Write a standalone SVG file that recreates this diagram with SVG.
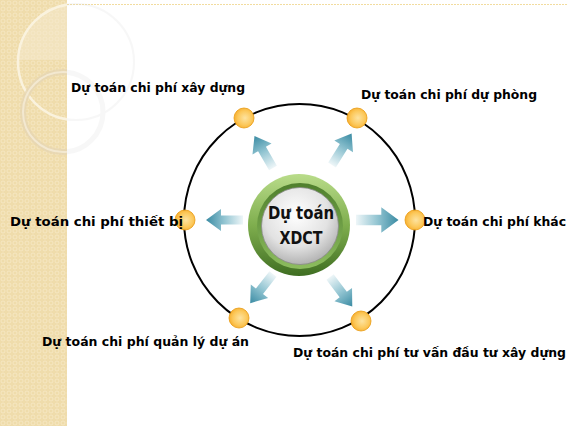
<svg xmlns="http://www.w3.org/2000/svg" width="568" height="426" viewBox="0 0 568 426">
<style>
.lbl{font-family:"DejaVu Sans",Verdana,sans-serif;font-weight:bold;font-size:12px;fill:#000}
.ctr{font-family:"DejaVu Sans",Verdana,sans-serif;font-weight:bold;font-size:17px;fill:#111;text-anchor:middle}
.dot{fill:url(#gOrange);stroke:#e89a10;stroke-width:0.8}
.arrow{fill:url(#gArrow)}
</style>
<defs>
<pattern id="pStrip" width="6" height="6" patternUnits="userSpaceOnUse">
<rect width="6" height="6" fill="#efdcab"/>
<circle cx="3" cy="3" r="2" fill="none" stroke="#f6e9c6" stroke-width="0.8"/>
</pattern>
<clipPath id="clipStrip"><rect x="0" y="0" width="67" height="426"/></clipPath>
<clipPath id="clipWhite"><rect x="67" y="0" width="100" height="200"/></clipPath>
<radialGradient id="gOrange" cx="0.55" cy="0.5" r="0.6">
<stop offset="0" stop-color="#fde3a0"/>
<stop offset="0.6" stop-color="#fcc85a"/>
<stop offset="1" stop-color="#f6a824"/>
</radialGradient>
<linearGradient id="gArrow" x1="0" y1="0" x2="1" y2="0">
<stop offset="0" stop-color="#eef6f8"/>
<stop offset="0.5" stop-color="#93c5d2"/>
<stop offset="1" stop-color="#3a8ba3"/>
</linearGradient>
<linearGradient id="gGreen" x1="0" y1="0" x2="0" y2="1">
<stop offset="0" stop-color="#b9dc8a"/>
<stop offset="0.5" stop-color="#7fae4e"/>
<stop offset="1" stop-color="#3f6e22"/>
</linearGradient>
<linearGradient id="gGreenIn" x1="0" y1="0" x2="0" y2="1">
<stop offset="0" stop-color="#4f7f2d"/>
<stop offset="1" stop-color="#8dbd5f"/>
</linearGradient>
<radialGradient id="gGrey" cx="0.45" cy="0.35" r="0.7">
<stop offset="0" stop-color="#ffffff"/>
<stop offset="0.6" stop-color="#e2e2e2"/>
<stop offset="1" stop-color="#a9a9a9"/>
</radialGradient>
<g id="arr">
<path class="arrow" d="M0,-4.5 L22,-4.5 L22,-11 L37,0 L22,11 L22,4.5 L0,4.5 Z"/>
</g>
</defs>

<rect width="568" height="426" fill="#ffffff"/>

<g id="background">
<rect x="0" y="0" width="67" height="426" fill="url(#pStrip)"/>
<line x1="67" y1="4.5" x2="568" y2="4.5" stroke="#f2dc9f" stroke-width="1.2" stroke-dasharray="2,1"/>
<g clip-path="url(#clipStrip)">
<path d="M18,60 A58,58 0 0 1 67,5 L67,60 Z" fill="#f6ead0" opacity="0.5"/>
<circle cx="76" cy="62" r="58" fill="none" stroke="#fbf4e2" stroke-width="2.5" opacity="0.9"/>
<circle cx="63" cy="112" r="40" fill="none" stroke="#e6d6b3" stroke-width="6" opacity="0.8"/>
<circle cx="63" cy="112" r="40" fill="none" stroke="#f5ecd8" stroke-width="2" opacity="0.8"/>
</g>
<g clip-path="url(#clipWhite)" opacity="0.2">
<circle cx="76" cy="62" r="58" fill="none" stroke="#d8d8d8" stroke-width="2"/>
<circle cx="63" cy="112" r="40" fill="none" stroke="#d8d8d8" stroke-width="5"/>
</g>
</g>

<g id="connectors">
<ellipse cx="299.5" cy="220" rx="115.5" ry="116" fill="none" stroke="#000" stroke-width="2"/>
<use href="#arr" transform="translate(273,168) rotate(-120)"/>
<use href="#arr" transform="translate(332,165) rotate(-58)"/>
<use href="#arr" transform="translate(243,220) rotate(180)"/>
<use href="#arr" transform="translate(356,220) scale(1.15)"/>
<use href="#arr" transform="translate(273,274) rotate(128)"/>
<use href="#arr" transform="translate(330,277) rotate(53)"/>
</g>

<g id="center">
<circle cx="299" cy="225" r="51" fill="url(#gGreen)"/>
<circle cx="300" cy="226" r="43" fill="url(#gGreenIn)"/>
<circle cx="300" cy="226" r="38.5" fill="url(#gGrey)" stroke="#8a8a8a" stroke-width="0.8"/>
<text class="ctr" x="301" y="219" textLength="66" lengthAdjust="spacingAndGlyphs">Dự toán</text>
<text class="ctr" x="301" y="244" textLength="43" lengthAdjust="spacingAndGlyphs">XDCT</text>
</g>

<g id="n-xaydung">
<circle class="dot" cx="244" cy="118" r="10"/>
<text class="lbl" x="71" y="92" textLength="174" lengthAdjust="spacingAndGlyphs">Dự toán chi phí xây dựng</text>
</g>
<g id="n-duphong">
<circle class="dot" cx="357" cy="118" r="10"/>
<text class="lbl" x="361" y="99" textLength="176" lengthAdjust="spacingAndGlyphs">Dự toán chi phí dự phòng</text>
</g>
<g id="n-thietbi">
<circle class="dot" cx="185" cy="220" r="10"/>
<text class="lbl" x="10" y="226" textLength="173" lengthAdjust="spacingAndGlyphs">Dự toán chi phí thiết bị</text>
</g>
<g id="n-khac">
<circle class="dot" cx="415" cy="220" r="10"/>
<text class="lbl" x="423" y="226" textLength="143" lengthAdjust="spacingAndGlyphs">Dự toán chi phí khác</text>
</g>
<g id="n-quanly">
<circle class="dot" cx="239" cy="318" r="10"/>
<text class="lbl" x="42" y="346" textLength="207" lengthAdjust="spacingAndGlyphs">Dự toán chi phí quản lý dự án</text>
</g>
<g id="n-tuvan">
<circle class="dot" cx="361" cy="321" r="10"/>
<text class="lbl" x="293" y="357" textLength="273" lengthAdjust="spacingAndGlyphs">Dự toán chi phí tư vấn đầu tư xây dựng</text>
</g>
</svg>
